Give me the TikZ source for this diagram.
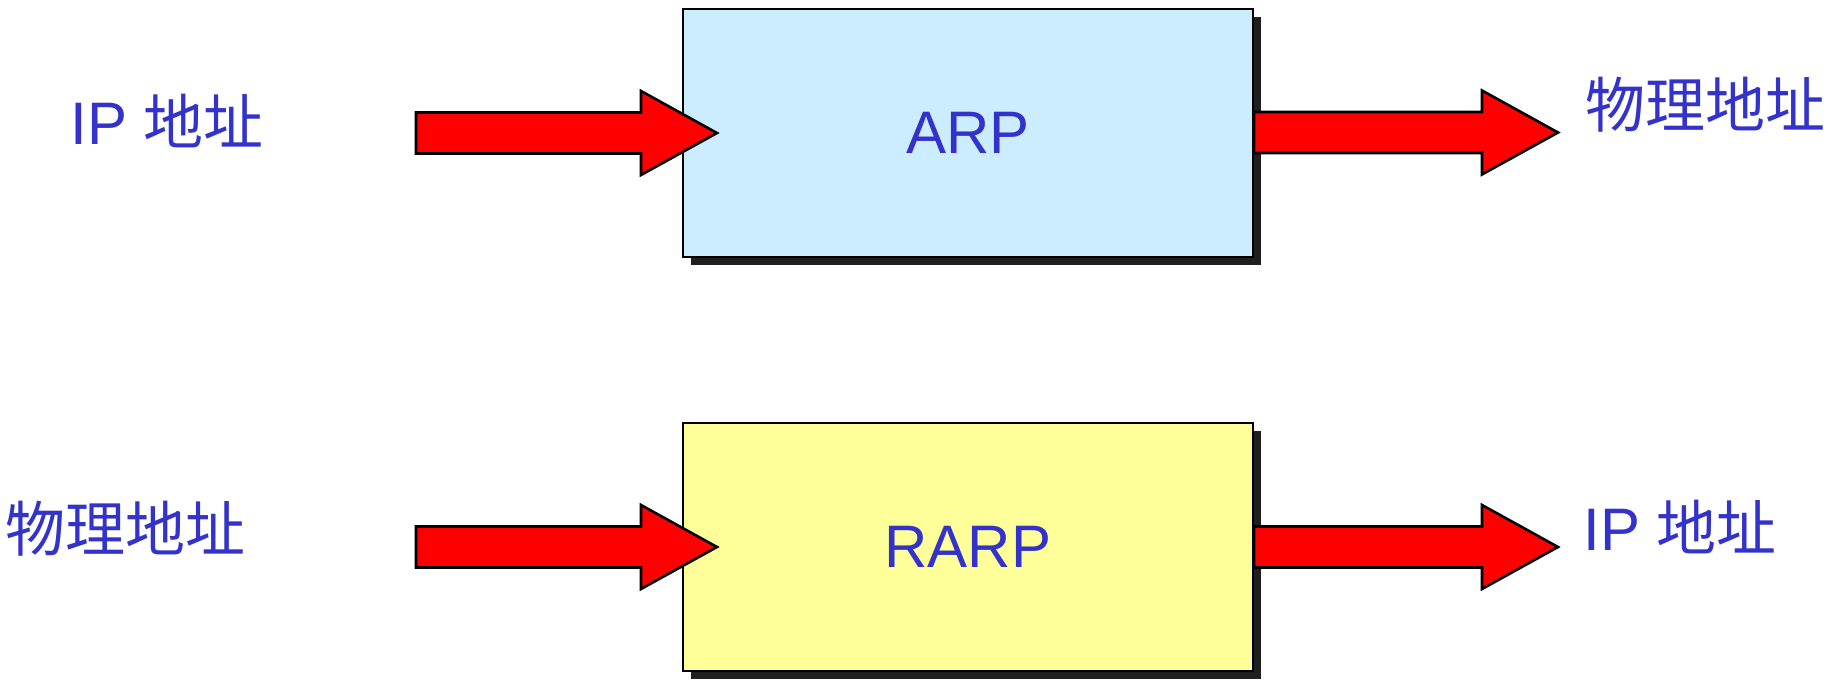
\documentclass[tikz,border=0pt]{standalone}
\usepackage{fontspec}
\setmainfont{Liberation Sans}
\newfontfamily\cjk{Noto Sans CJK SC}
\usepackage{tikz}
\usepackage{xcolor}
\usetikzlibrary{calc,shadows}
\definecolor{labelblue}{HTML}{3333CC}
\definecolor{arpblue}{HTML}{CCECFF}
\definecolor{rarpyellow}{HTML}{FFFF99}
\definecolor{arrowred}{HTML}{FF0000}
\definecolor{shadowgray}{HTML}{1F1F1F}

\begin{document}
\begin{tikzpicture}[
    x=0.5pt, y=-0.5pt,
    label/.style={anchor=base west, inner sep=0pt, text=labelblue, font=\fontsize{30}{36}\selectfont},
    proto/.style={rectangle, draw=black, line width=1pt, minimum width=285pt, minimum height=124pt, inner sep=0pt, text=labelblue, font=\fontsize{30}{36}\selectfont, drop shadow={shadow xshift=4pt, shadow yshift=-4pt, fill=shadowgray, opacity=1}},
    blockarrow/.style={draw=black, line width=1.3pt, fill=arrowred, line join=miter,
      to path={let \p1=(\tikztostart), \p2=(\tikztotarget) in
        (\x1,\y1+10.25pt) -- (\x2-38pt,\y1+10.25pt) -- (\x2-38pt,\y1+21pt) -- (\x2,\y1)
        -- (\x2-38pt,\y1-21pt) -- (\x2-38pt,\y1-10.25pt) -- (\x1,\y1-10.25pt) -- cycle}}
  ]
    \useasboundingbox (0,0) rectangle (1828,687);

    \node[label] (ipA) at (70,144) {IP {\cjk 地址}};
    \node[proto, fill=arpblue] (arp) at (968,132.5) {ARP};
    \node[label] (phyA) at (1585,127) {\cjk 物理地址};

    \node[label] (phyB) at (5,551) {\cjk 物理地址};
    \node[proto, fill=rarpyellow] (rarp) at (968,547) {RARP};
    \node[label] (ipB) at (1583,550) {IP {\cjk 地址}};

    \coordinate (arpIn) at (416,133);
    \coordinate (arpTip) at ($(arp.west)+(17.5pt,0)$);
    \coordinate (arpOut) at ($(arp.east)+(152pt,0)$);
    \coordinate (rarpIn) at (416,547);
    \coordinate (rarpTip) at ($(rarp.west)+(17.5pt,0)$);
    \coordinate (rarpOut) at ($(rarp.east)+(152pt,0)$);

    \draw[blockarrow] (arpIn) to (arpTip);
    \draw[blockarrow] (arp.east) to (arpOut);
    \draw[blockarrow] (rarpIn) to (rarpTip);
    \draw[blockarrow] (rarp.east) to (rarpOut);
  \end{tikzpicture}
\end{document}
